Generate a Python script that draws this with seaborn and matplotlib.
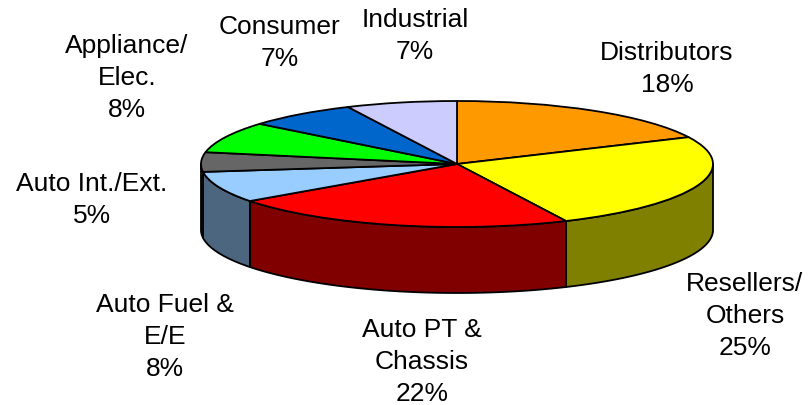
import numpy as np
import matplotlib
matplotlib.use("Agg")
import matplotlib.pyplot as plt
import matplotlib.transforms as mtransforms
from matplotlib.patches import Polygon
import seaborn as sns

# Segment data (clockwise from 12 o'clock)
segments = ["Distributors", "Resellers/\nOthers", "Auto PT &\nChassis", "Auto Fuel &\nE/E",
            "Auto Int./Ext.", "Appliance/\nElec.", "Consumer", "Industrial"]
shares = [18, 25, 22, 8, 5, 8, 7, 7]
top_colors = ["#FF9900", "#FFFF00", "#FF0000", "#99CCFF", "#666666", "#00FF00", "#0066CC", "#CCCCFF"]
side_colors = ["#804D00", "#808000", "#800000", "#4D6680", "#333333", "#008000", "#003366", "#666680"]

# label anchor positions in image pixels (x, y from top)
label_pos = [(667, 69), (745, 316), (422, 362), (165, 337),
             (92, 200), (127, 78), (280, 43), (415, 36)]

sns.set_theme(style="white")
plt.rcParams["font.family"] = ["Liberation Sans", "DejaVu Sans"]

W, H = 808, 406
cx, cy = 457, 165      # pie centre in image pixels
rx, ry = 256, 63       # ellipse radii
depth = 66             # thickness of the pie

fig = plt.figure(figsize=(W / 100, H / 100), dpi=100)
ax = fig.add_axes([0, 0, 1, 1])

wedges, _ = ax.pie(shares, colors=top_colors, startangle=90, counterclock=False,
                   radius=rx, center=(0, 0),
                   wedgeprops=dict(edgecolor="black", linewidth=1.3, joinstyle="round"))
squash = mtransforms.Affine2D().scale(1, ry / rx) + ax.transData
for w in wedges:
    w.set_transform(squash)
    w.set_zorder(3)

# side walls for the front half of the pie
ends = 90 - np.cumsum(shares) * 3.6
starts = np.concatenate([[90], ends[:-1]])
for s, e, col in zip(starts, ends, side_colors):
    lo, hi = max(e, -180), min(s, 0)
    if hi <= lo:
        continue
    th = np.radians(np.linspace(lo, hi, 120))
    xs = rx * np.cos(th)
    ys = ry * np.sin(th)
    pts = np.column_stack([np.concatenate([xs, xs[::-1]]),
                           np.concatenate([ys, ys[::-1] - depth])])
    ax.add_patch(Polygon(pts, closed=True, facecolor=col, edgecolor="black",
                         linewidth=1.3, joinstyle="round", zorder=2))

ax.set_aspect("auto")
ax.set_xlim(-cx, W - cx)
ax.set_ylim(cy - H, cy)
ax.axis("off")

for name, val, (px, py) in zip(segments, shares, label_pos):
    fig.text(px / W, 1 - py / H, f"{name}\n{val}%", ha="center", va="center",
             fontsize=19, linespacing=1.42, color="black")

fig.savefig("out.png", dpi=100)
